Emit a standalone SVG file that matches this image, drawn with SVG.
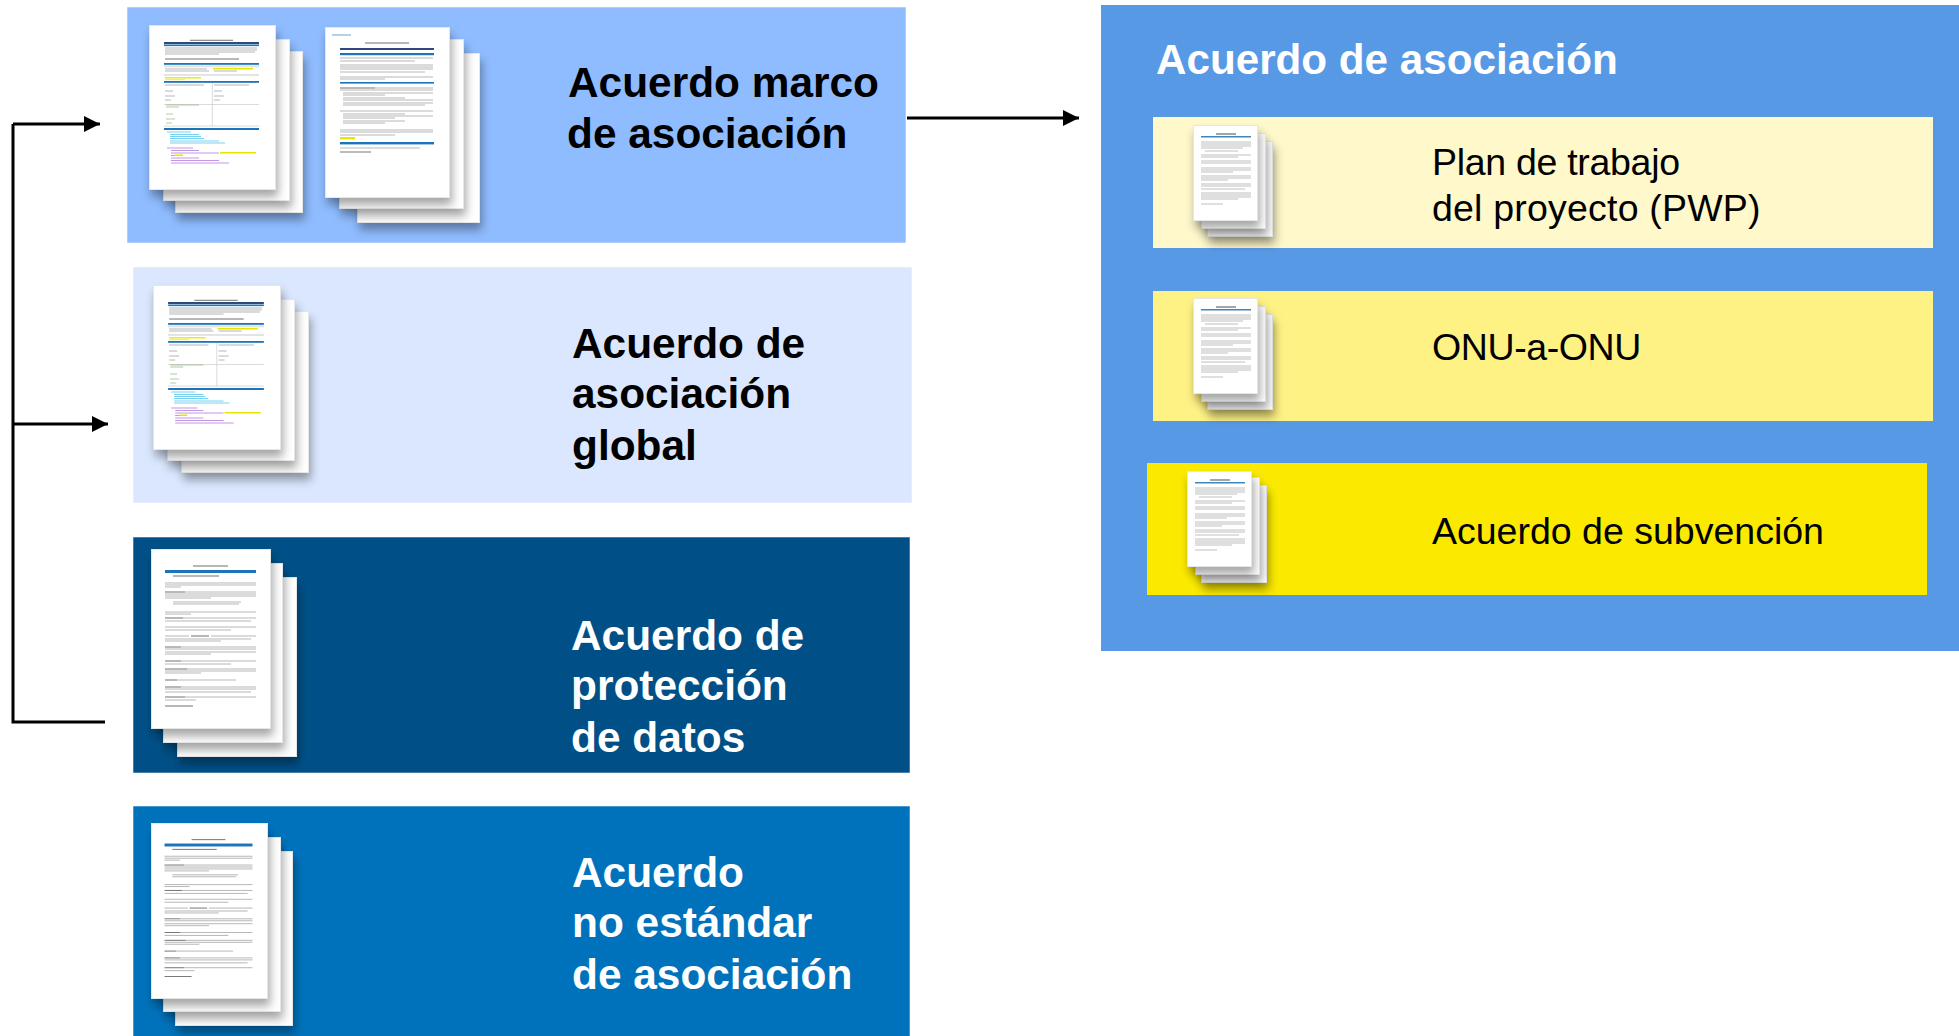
<svg xmlns="http://www.w3.org/2000/svg" width="1959" height="1036" viewBox="0 0 1959 1036">
<style>
text{font-family:"Liberation Sans",Arial,sans-serif}
.t{font-size:42.400px;font-weight:700;fill:#000}
.w{font-size:42.400px;font-weight:700;fill:#fff}
.h{font-size:42.200px;font-weight:700;fill:#fff}
.r{font-size:37.500px;fill:#000}
.p{stroke:#fff;stroke-opacity:.55;stroke-width:1}
.pg{fill:#fff;stroke:#e6e6e6;stroke-width:1;filter:url(#sh)}
.c{stroke:#000;stroke-width:3;fill:none}
.g{stroke:#666;stroke-width:.8;fill:none;opacity:.6}
.k{stroke:#222;stroke-width:.9;fill:none;opacity:.7}
.b{fill:#1b75bc}
</style>
<defs>
<filter id="sh" x="-30%" y="-30%" width="170%" height="170%"><feDropShadow dx="2" dy="7" stdDeviation="5" flood-color="#000" flood-opacity=".35"/></filter>
<filter id="bl" x="-5%" y="-5%" width="110%" height="110%"><feGaussianBlur stdDeviation=".45"/></filter>
<marker id="ah" markerWidth="16" markerHeight="16" refX="16" refY="8" orient="auto" markerUnits="userSpaceOnUse"><path d="M0 0L16 8L0 16Z" fill="#000"/></marker>
<symbol id="form" viewBox="0 0 126 164" preserveAspectRatio="none">
<g filter="url(#bl)">
<path class="k" d="M41 15.300H84"/>
<rect x="15" y="17" width="95" height="2" fill="#2e4a7a"/><rect class="b" x="15" y="19.500" width="95" height="1.600"/>
<path class="g" d="M16 23H108M16 25H108M16 27H106M16 29H70"/><path class="k" d="M16 34H90"/>
<rect class="b" x="15" y="38" width="95" height="1.800"/><rect x="15" y="40.200" width="95" height="2.200" fill="#e4e4e4"/>
<path class="g" d="M16 44H58M16 46H60"/>
<rect x="64" y="43" width="40" height="1.500" fill="#e8e600"/><path class="g" d="M65 46H88"/>
<rect x="15" y="49" width="95" height="2" fill="#e4e4e4"/><rect x="16" y="52" width="36" height="1.500" fill="#e8f000"/><rect x="16" y="54" width="20" height="1.200" fill="#eef070"/>
<rect class="b" x="15" y="56" width="95" height="1.800"/><path stroke="#ccc" stroke-width=".7" d="M63.300 58V101M15 79.500H110M15 101H110"/>
<path class="g" d="M16 60H55M65 60H100M16 66H24M65 66H73M16 71H26M65 71H75M16 75H22M65 75H71"/>
<path stroke="#7fa86a" stroke-width=".6" fill="none" d="M17 80H50M17 82H30M17 89H24M17 94H26M17 98H23"/>
<rect class="b" x="15" y="103" width="95" height="2"/>
<path stroke="#22b2e8" stroke-width=".6" fill="none" d="M18 107H42M21 109.500H50M21 111.500H52M21 113.500H55M21 116H70M21 118H76"/>
<path stroke="#9a4fd0" stroke-width=".6" fill="none" d="M18 123H44M22 125.500H50M22 128H70M22 130.500H30M22 133H50M22 135.500H70M22 138H80"/>
<rect x="71" y="127" width="36" height="1.500" fill="#e8e600"/><rect x="26" y="129.500" width="8" height="1.500" fill="#e8e600"/>
</g>
</symbol>
<symbol id="text" viewBox="0 0 120 180" preserveAspectRatio="none">
<g filter="url(#bl)">
<path class="k" d="M42 17H77"/>
<rect class="b" x="14" y="21" width="91" height="3"/>
<path class="k" d="M22 27H68"/>
<path class="g" d="M14 34H105M14 36H105M14 38H30"/>
<path class="k" d="M14 43H34"/>
<path class="g" d="M34 43H105M14 45H105M14 47H105M14 49H60M22 53H90M22 55H88M14 63H105M14 65H40"/>
<path class="k" d="M14 69H32"/>
<path class="g" d="M32 69H105M14 72H100M14 78H105M14 81H80"/>
<path class="k" d="M40 87H58"/>
<path class="g" d="M14 87H38M60 87H105M14 90H100M14 92H70"/>
<path class="k" d="M14 98H30"/>
<path class="g" d="M30 98H105M14 100H105M14 103H105M14 105H60"/>
<path class="k" d="M14 112H30"/>
<path class="g" d="M30 112H105M14 115H80"/>
<path class="k" d="M14 120H36"/>
<path class="g" d="M36 120H105M14 122H105M14 124H50"/>
<path class="k" d="M14 131H26"/>
<path class="g" d="M26 131H85"/>
<path class="k" d="M14 138H30"/>
<path class="g" d="M30 138H105M14 140H105M14 143H100"/>
<path class="k" d="M14 148H34"/>
<path class="g" d="M34 148H105M14 151H45"/>
<path class="k" d="M14 157H42"/>
</g>
</symbol>
<symbol id="agree" viewBox="0 0 124 170" preserveAspectRatio="none">
<g filter="url(#bl)">
<path stroke="#7fb2dd" stroke-width="1.200" fill="none" d="M7 8H26"/>
<path class="k" d="M40 16H84"/>
<rect x="15" y="21" width="94" height="2" fill="#2e4a7a"/><rect class="b" x="15" y="26" width="94" height="2.200"/>
<path class="g" d="M15 31H108M15 34H90M15 38H108M15 40H108M15 42H108M15 45H100M15 50H108M15 52H60"/>
<rect class="b" x="15" y="55" width="94" height="1.600"/>
<path class="k" d="M15 61H50"/><path class="g" d="M50 61H108M15 63H108M18 66H108M18 68H60M18 71H80M18 73H108M18 76H108M18 78H100M15 84H108M18 87H80M18 89H108M18 91H70M18 94H80M18 96H60M15 103H108M15 105H108M15 108H70"/>
<rect x="15" y="110" width="15" height="2.400" fill="#e8e600"/>
<rect class="b" x="15" y="115" width="94" height="2.400"/>
<path class="g" d="M15 121H95"/><rect x="15" y="124" width="31" height="2" fill="#bbb"/>
</g>
</symbol>
<symbol id="small" viewBox="0 0 65 95" preserveAspectRatio="none">
<g filter="url(#bl)">
<path stroke="#333" stroke-width=".9" fill="none" d="M23 9H43"/>
<rect x="8" y="11" width="50" height="1.500" fill="#3c87bd"/>
<path stroke="#666" stroke-width=".7" fill="none" opacity=".6" d="M8 17H58M8 19H58M8 21H58M8 23H50M12 26H45M8 30H58M8 32H45M8 36H58M8 38H58M8 43H58M8 45H58M8 47H40M8 51H58M8 53H58M8 55H35M8 59H58M8 61H58M8 64H52M8 68H58M8 70H58M8 72H58M8 74H45M8 79H30"/>
</g>
</symbol>
</defs>

<g id="connectors">
<path class="c" d="M13 124V722H105"/>
<path class="c" d="M13 124H100" marker-end="url(#ah)"/>
<path class="c" d="M13 424H108" marker-end="url(#ah)"/>
<path class="c" d="M907 118H1079" marker-end="url(#ah)"/>
</g>

<g id="node-marco">
<rect class="p" x="127" y="7" width="779" height="236" fill="#8fbcff"/>
<rect class="pg" x="175.500" y="51.500" width="127" height="161"/><rect class="pg" x="163.500" y="39.500" width="126" height="161"/><rect class="pg" x="149.500" y="25.500" width="126" height="164"/>
<use href="#form" x="149" y="25" width="126" height="164"/>
<rect class="pg" x="357.500" y="53.500" width="122" height="169"/><rect class="pg" x="339.500" y="39.500" width="124" height="169"/><rect class="pg" x="325.500" y="27.500" width="124" height="170"/>
<use href="#agree" x="325" y="27" width="124" height="170"/>
<text class="t" x="568" y="97">Acuerdo marco</text><text class="t" x="567" y="148">de asociación</text>
</g>

<g id="node-global">
<rect class="p" x="133" y="267" width="779" height="236" fill="#dae7fe"/>
<rect class="pg" x="181.500" y="311.500" width="127" height="161"/><rect class="pg" x="167.500" y="299.500" width="127" height="161"/><rect class="pg" x="153.500" y="285.500" width="127" height="164"/>
<use href="#form" x="153" y="285" width="127" height="164"/>
<text class="t" x="572" y="358">Acuerdo de</text><text class="t" x="572" y="408">asociación</text><text class="t" x="572" y="460">global</text>
</g>

<g id="node-datos">
<rect class="p" x="133" y="537" width="777" height="236" fill="#005087"/>
<rect class="pg" x="177.500" y="577.500" width="119" height="179"/><rect class="pg" x="163.500" y="563.500" width="119" height="179"/><rect class="pg" x="151.500" y="549.500" width="119" height="179"/>
<use href="#text" x="151" y="549" width="120" height="180"/>
<text class="w" x="571" y="650">Acuerdo de</text><text class="w" x="571" y="700">protección</text><text class="w" x="571" y="752">de datos</text>
</g>

<g id="node-noestandar">
<rect class="p" x="133" y="806" width="777" height="231" fill="#0072bc"/>
<rect class="pg" x="175.500" y="851.500" width="117" height="174"/><rect class="pg" x="163.500" y="837.500" width="117" height="174"/><rect class="pg" x="151.500" y="823.500" width="116" height="175"/>
<use href="#text" x="151" y="823" width="116" height="176"/>
<text class="w" x="572" y="887">Acuerdo</text><text class="w" x="572" y="937">no estándar</text><text class="w" x="572" y="989">de asociación</text>
</g>

<g id="node-asociacion">
<rect x="1101" y="5" width="858" height="646" fill="#5899e5"/>
<text class="h" x="1156" y="74">Acuerdo de asociación</text>
</g>

<g id="node-pwp">
<rect x="1153" y="117" width="780" height="131" fill="#fef8cb"/>
<rect class="pg" x="1207.500" y="141.500" width="65" height="95"/><rect class="pg" x="1201.500" y="133.500" width="64" height="95"/><rect class="pg" x="1193.500" y="125.500" width="64" height="95"/>
<use href="#small" x="1193" y="125" width="65" height="95"/>
<text class="r" x="1432" y="175" letter-spacing="-.3">Plan de trabajo</text><text class="r" x="1432" y="221" letter-spacing=".2">del proyecto (PWP)</text>
</g>

<g id="node-onu">
<rect x="1153" y="291" width="780" height="130" fill="#fff285"/>
<rect class="pg" x="1207.500" y="314.500" width="65" height="95"/><rect class="pg" x="1201.500" y="306.500" width="64" height="95"/><rect class="pg" x="1193.500" y="298.500" width="64" height="95"/>
<use href="#small" x="1193" y="298" width="65" height="95"/>
<text class="r" x="1432" y="360" letter-spacing="-.4">ONU-a-ONU</text>
</g>

<g id="node-subvencion">
<rect x="1147" y="463" width="780" height="132" fill="#fbea00"/>
<rect class="pg" x="1201.500" y="485.500" width="65" height="97"/><rect class="pg" x="1195.500" y="477.500" width="64" height="97"/><rect class="pg" x="1187.500" y="471.500" width="64" height="95"/>
<use href="#small" x="1187" y="471" width="65" height="95"/>
<text class="r" x="1432" y="544">Acuerdo de subvención</text>
</g>
</svg>
